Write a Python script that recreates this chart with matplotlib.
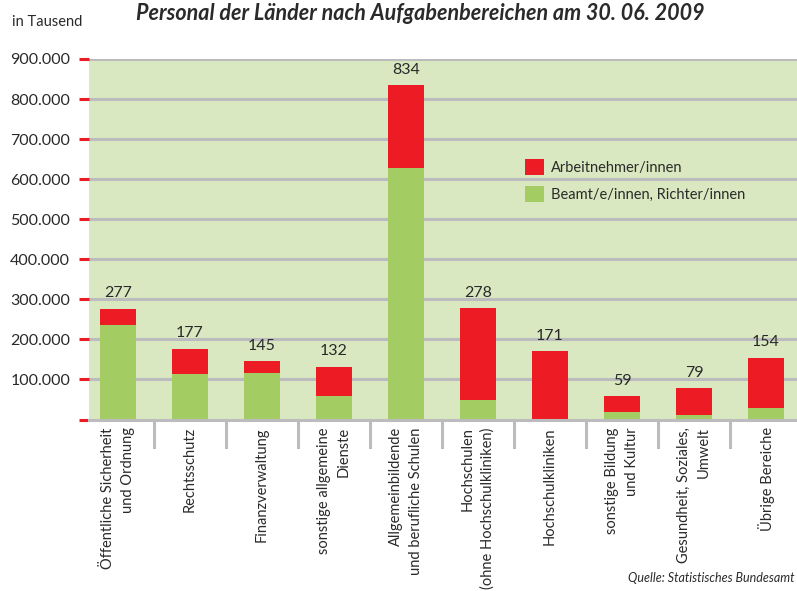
import matplotlib
matplotlib.use("Agg")
import matplotlib.pyplot as plt
from matplotlib.transforms import blended_transform_factory
import numpy as np

plt.rcParams['font.family'] = ['Lato', 'DejaVu Sans']

categories = [
    "Öffentliche Sicherheit\nund Ordnung",
    "Rechtsschutz",
    "Finanzverwaltung",
    "sonstige allgemeine\nDienste",
    "Allgemeinbildende\nund berufliche Schulen",
    "Hochschulen\n(ohne Hochschulkliniken)",
    "Hochschulkliniken",
    "sonstige Bildung\nund Kultur",
    "Gesundheit, Soziales,\nUmwelt",
    "Übrige Bereiche",
]
totals = [277, 177, 145, 132, 834, 278, 171, 59, 79, 154]          # thousand
beamte = [235, 113, 116, 58, 628, 48, 1, 18, 11, 28]               # thousand
arbeitnehmer = [t - b for t, b in zip(totals, beamte)]
yticks = [100000, 200000, 300000, 400000, 500000, 600000, 700000, 800000, 900000]
ytick_labels = ["100.000", "200.000", "300.000", "400.000", "500.000",
                "600.000", "700.000", "800.000", "900.000"]

RED = "#ed1c24"
GREEN = "#a3cd62"
BG = "#d9e8c0"
GRID = "#bcbcbe"
TXT = "#2a2a2a"

W, H = 797, 591
fig = plt.figure(figsize=(W / 100, H / 100), dpi=100)
ax = fig.add_axes([89 / W, 1 - 419.5 / H, (W - 89) / W, 360.5 / H])
ax.set_facecolor(BG)

x = np.arange(len(categories))
b_vals = np.array(beamte) * 1000
a_vals = np.array(arbeitnehmer) * 1000
bw = 36 / 72
ax.bar(x, b_vals, width=bw, color=GREEN, zorder=3, label="Beamt/e/innen, Richter/innen")
ax.bar(x, a_vals, width=bw, bottom=b_vals, color=RED, zorder=3, label="Arbeitnehmer/innen")

for xi, t in zip(x, totals):
    ax.annotate(str(t), (xi, t * 1000), xytext=(0, 6), textcoords="offset points",
                ha="center", va="bottom", fontsize=11.5, color=TXT)

ax.set_xlim(-0.4, 9.43)
ax.set_ylim(0, 900000)

for y in yticks:
    ax.axhline(y, color=GRID, lw=2.2, zorder=1)
ax.axhline(0, color=GRID, lw=2.2, zorder=4, clip_on=False)

for s in ax.spines.values():
    s.set_visible(False)

ax.set_yticks([0] + yticks)
ax.set_yticklabels([""] + ytick_labels, fontsize=11.5, color=TXT)
ax.tick_params(axis="y", length=7.5, width=2.2, color=RED, pad=6)

ax.set_xticks(x)
ax.set_xticklabels(categories, rotation=90, ha="center", va="top",
                   multialignment="right", fontsize=10.5, color=TXT, linespacing=1.5)
ax.tick_params(axis="x", length=0, pad=5.5)

trans = blended_transform_factory(ax.transData, ax.transAxes)
for s in np.arange(len(categories) - 1) + 0.5:
    ax.plot([s, s], [0, -0.075], transform=trans, color=GRID, lw=2.2, clip_on=False, zorder=4)

# legend
h, l = ax.get_legend_handles_labels()
leg = ax.legend(h[::-1], l[::-1], loc="upper left", bbox_to_anchor=(430 / (W - 89), 1 - 94 / 360.5),
                frameon=False, fontsize=10.5, handlelength=1.3, handleheight=1.3,
                handletextpad=0.5, labelspacing=0.75, borderaxespad=0)
for t in leg.get_texts():
    t.set_color(TXT)

fig.text(420 / W, 1 - 13 / H, "Personal der Länder nach Aufgabenbereichen am 30. 06. 2009",
         ha="center", va="center", fontsize=15.5, fontweight="bold", fontstyle="italic", color=TXT)
fig.text(12 / W, 1 - 22 / H, "in Tausend", ha="left", va="center", fontsize=10.5, color=TXT)
fig.text(795 / W, 1 - 578 / H, "Quelle: Statistisches Bundesamt", ha="right", va="center",
         fontsize=9, fontstyle="italic", color=TXT)

fig.savefig("out.png", dpi=100, facecolor="white")
